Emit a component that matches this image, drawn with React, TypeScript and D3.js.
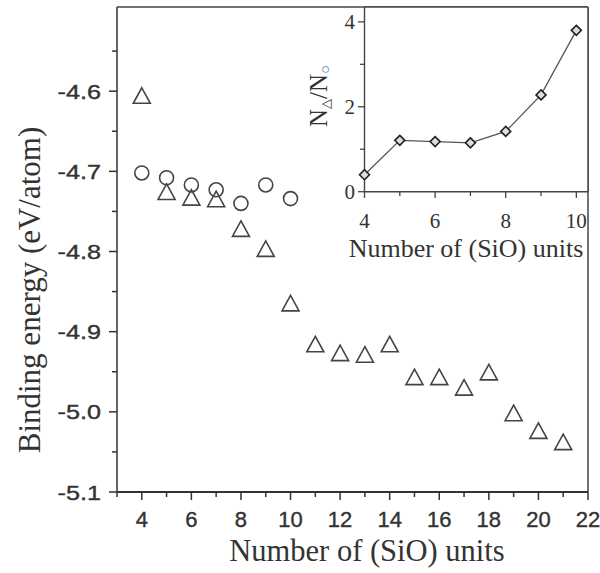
import React from "react";
import * as d3 from "d3";

const triN = [4, 5, 6, 7, 8, 9, 10, 11, 12, 13, 14, 15, 16, 17, 18, 19, 20, 21];
const triE = [-4.607, -4.727, -4.734, -4.736, -4.773, -4.798, -4.866, -4.917, -4.928, -4.93, -4.917, -4.958, -4.958, -4.971, -4.952, -5.003, -5.025, -5.039];
const circN = [4, 5, 6, 7, 8, 9, 10];
const circE = [-4.702, -4.708, -4.717, -4.723, -4.74, -4.717, -4.734];
const mainXTicks = [4, 6, 8, 10, 12, 14, 16, 18, 20, 22];
const mainYTicks = [-4.6, -4.7, -4.8, -4.9, -5.0, -5.1];
const insetN = [4, 5, 6, 7, 8, 9, 10];
const insetRatio = [0.4, 1.21, 1.18, 1.15, 1.42, 2.28, 3.8];
const insetXTicks = [4, 6, 8, 10];
const insetYTicks = [0, 2, 4];

export default function App() {
  const W = 600, H = 573;
  const x = d3.scaleLinear().domain([3, 22]).range([117, 588]);
  const y = d3.scaleLinear().domain([-5.1, -4.495]).range([492, 7]);
  const ix = d3.scaleLinear().domain([4, 10.33]).range([364.5, 588]);
  const iy = d3.scaleLinear().domain([0, 4.35]).range([191.7, 7]);
  const line = d3.line<number>().x((d, i) => ix(insetN[i])).y((d) => iy(d));
  const minorX = d3.range(3, 22, 1).filter((v) => v % 2 === 1);
  const minorY = d3.range(-5.05, -4.5, 0.1);
  const axisColor = "#333";
  const sans = "Liberation Sans, Arial, sans-serif";
  const serif = "Liberation Serif, Times New Roman, serif";
  const tri = (cx: number, cy: number) => {
    const s = 8.5;
    return `M${cx},${cy - 9} L${cx + s},${cy + 6.5} L${cx - s},${cy + 6.5} Z`;
  };
  return (
    <svg width={W} height={H} style={{ position: "absolute", left: 0, top: 0, background: "#fff" }}>
      <rect width={W} height={H} fill="#fff" />
      {/* main frame */}
      <line x1={117} x2={588} y1={7} y2={7} stroke="#444" strokeWidth={1.5} />
      <line x1={588} x2={588} y1={7} y2={492} stroke="#444" strokeWidth={1.5} />
      <line x1={117} x2={117} y1={7} y2={492} stroke={axisColor} strokeWidth={1.5} />
      <line x1={117} x2={588} y1={492} y2={492} stroke={axisColor} strokeWidth={2.2} />
      {mainYTicks.map((t) => (
        <g key={"y" + t}>
          <line x1={109} x2={117} y1={y(t)} y2={y(t)} stroke={axisColor} strokeWidth={1.5} />
          <text transform={`translate(101,${y(t)}) scale(1.2,1)`} dy="0.36em" textAnchor="end" fontFamily={sans} fontSize={21} fill="#333" stroke="#333" strokeWidth={0.4}>
            {t.toFixed(1)}
          </text>
        </g>
      ))}
      {minorY.map((t) => (
        <line key={"my" + t} x1={112} x2={117} y1={y(t)} y2={y(t)} stroke={axisColor} strokeWidth={1.5} />
      ))}
      {mainXTicks.map((t) => (
        <g key={"x" + t}>
          <line x1={x(t)} x2={x(t)} y1={492} y2={500} stroke={axisColor} strokeWidth={1.5} />
          <text x={x(t)} y={527} textAnchor="middle" fontFamily={sans} fontSize={22} fill="#333" stroke="#333" strokeWidth={0.4}>
            {t}
          </text>
        </g>
      ))}
      {minorX.map((t) => (
        <line key={"mx" + t} x1={x(t)} x2={x(t)} y1={492} y2={497} stroke={axisColor} strokeWidth={1.5} />
      ))}
      <text x={367} y={561} textAnchor="middle" fontFamily={serif} fontSize={30.5} fill="#333">
        Number of (SiO) units
      </text>
      <text transform="translate(40,290) rotate(-90)" textAnchor="middle" fontFamily={serif} fontSize={31} fill="#333">
        Binding energy (eV/atom)
      </text>
      {/* data */}
      {circN.map((n, i) => (
        <circle key={"c" + n} cx={x(n)} cy={y(circE[i])} r={7} fill="none" stroke="#444" strokeWidth={1.6} />
      ))}
      {triN.map((n, i) => (
        <path key={"t" + n} d={tri(x(n), y(triE[i]))} fill="none" stroke="#444" strokeWidth={1.6} />
      ))}
      {/* inset */}
      <rect x={364.5} y={7} width={223.5} height={184.7} fill="#fff" />
      <line x1={364.5} x2={364.5} y1={7} y2={192} stroke="#444" strokeWidth={1.4} />
      <line x1={364.5} x2={588} y1={191.7} y2={191.7} stroke="#444" strokeWidth={1.4} />
      <line x1={364.5} x2={588} y1={7} y2={7} stroke="#444" strokeWidth={1.5} />
      <line x1={588} x2={588} y1={7} y2={192} stroke="#444" strokeWidth={1.5} />
      {insetYTicks.map((t) => (
        <g key={"iy" + t}>
          <line x1={358} x2={364.5} y1={iy(t)} y2={iy(t)} stroke="#444" strokeWidth={1.3} />
          <text x={355} y={iy(t)} dy="0.35em" textAnchor="end" fontFamily={serif} fontSize={21} fill="#333">
            {t}
          </text>
        </g>
      ))}
      {[1, 3].map((t) => (
        <line key={"imy" + t} x1={360} x2={364.5} y1={iy(t)} y2={iy(t)} stroke="#444" strokeWidth={1.3} />
      ))}
      {insetXTicks.map((t) => (
        <g key={"ix" + t}>
          <line x1={ix(t)} x2={ix(t)} y1={191.7} y2={198} stroke="#444" strokeWidth={1.3} />
          <text x={ix(t)} y={228} textAnchor="middle" fontFamily={serif} fontSize={21} fill="#333">
            {t}
          </text>
        </g>
      ))}
      {[5, 7, 9].map((t) => (
        <line key={"imx" + t} x1={ix(t)} x2={ix(t)} y1={191.7} y2={196} stroke="#444" strokeWidth={1.3} />
      ))}
      <text x={466} y={257} textAnchor="middle" fontFamily={serif} fontSize={26} fill="#333">
        Number of (SiO) units
      </text>
      <text transform="translate(327,96) rotate(-90)" textAnchor="middle" fontFamily={serif} fontSize={25} fill="#333">
        <tspan>N</tspan>
        <tspan fontSize={13} dy={3} fontFamily="DejaVu Sans">△</tspan>
        <tspan dy={-3}>/N</tspan>
        <tspan fontSize={15} dy={3} fill="#4a7fc1" fontWeight="bold">○</tspan>
      </text>
      <path d={line(insetRatio) || ""} fill="none" stroke="#555" strokeWidth={1.3} />
      {insetN.map((n, i) => {
        const cx = ix(n), cy = iy(insetRatio[i]), s = 5;
        return (
          <path key={"d" + n} d={`M${cx},${cy - s} L${cx + s},${cy} L${cx},${cy + s} L${cx - s},${cy} Z`} fill="#ddd" stroke="#222" strokeWidth={1.6} />
        );
      })}
    </svg>
  );
}
